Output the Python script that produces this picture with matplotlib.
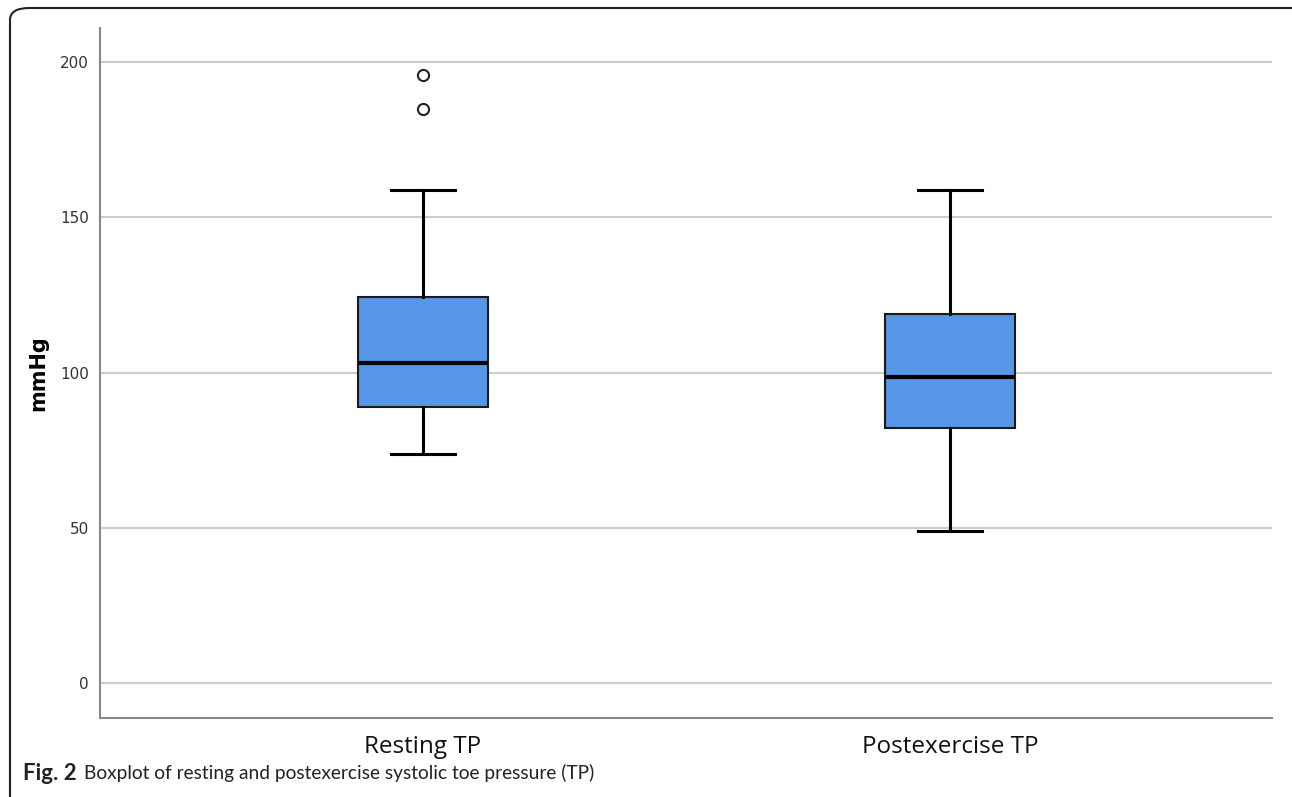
import matplotlib
matplotlib.use("Agg")
import matplotlib.pyplot as plt
from matplotlib.patches import FancyBboxPatch

# values (mmHg)
groups = ["Resting TP", "Postexercise TP"]
whisker_low = [73.8, 49.0]
q1 = [88.8, 82.0]
median = [103.0, 98.5]
q3 = [124.4, 118.8]
whisker_high = [158.8, 158.8]
outliers = [[195.8, 184.8], []]
yticks = [0, 50, 100, 150, 200]

plt.rcParams["font.family"] = ["DejaVu Sans"]

stats = []
for i in range(len(groups)):
    stats.append({"label": groups[i], "whislo": whisker_low[i], "q1": q1[i],
                  "med": median[i], "q3": q3[i], "whishi": whisker_high[i],
                  "fliers": outliers[i]})

fig = plt.figure(figsize=(12.92, 7.97), dpi=100)
ax = fig.add_axes([100 / 1292, 1 - 718 / 797, 1172 / 1292, 690 / 797])

ax.bxp(stats, positions=[1, 2], widths=0.245, patch_artist=True,
       boxprops=dict(facecolor="#5596e6", edgecolor="#1a1a1a", linewidth=1.5),
       medianprops=dict(color="black", linewidth=3),
       whiskerprops=dict(color="black", linewidth=2.2),
       capprops=dict(color="black", linewidth=2.2),
       capwidths=0.123,
       flierprops=dict(marker="o", markerfacecolor="white", markeredgecolor="#222222",
                       markersize=8, markeredgewidth=1.5),
       zorder=3)

ax.set_xlim(0.387, 2.611)
ax.set_ylim(-11.3, 211)
ax.set_yticks(yticks)
ax.yaxis.grid(True, color="#cccccc", linewidth=1.5, zorder=0)
ax.set_axisbelow(True)
ax.tick_params(axis="both", length=0)
ax.tick_params(axis="y", pad=8, labelsize=11, labelcolor="#333333")
ax.tick_params(axis="x", pad=12, labelsize=17.5, labelcolor="#111111")
for lab in ax.get_xticklabels():
    lab.set_fontfamily("Open Sans")
for lab in ax.get_yticklabels():
    lab.set_fontfamily("DejaVu Sans")
for side in ["top", "right"]:
    ax.spines[side].set_visible(False)
for side in ["left", "bottom"]:
    ax.spines[side].set_color("#888888")
    ax.spines[side].set_linewidth(1.5)

ax.set_ylabel("mmHg", fontsize=15, fontweight="bold", family="DejaVu Sans")
ax.yaxis.set_label_coords(-52 / 1172, 0.5)

# rounded frame of the figure panel
frame = FancyBboxPatch((10 / 1292, -0.2), 1.2, 1 - 8 / 797 + 0.2,
                       boxstyle="round,pad=0,rounding_size=0.015",
                       transform=fig.transFigure, fill=False,
                       edgecolor="#222222", linewidth=1.5, clip_on=False)
fig.patches.append(frame)

fig.text(23 / 1292, 1 - 773 / 797, "Fig. 2", fontsize=16, fontweight="bold",
         family="Lato", va="center", color="#222222")
fig.text(84 / 1292, 1 - 773 / 797,
         "Boxplot of resting and postexercise systolic toe pressure (TP)",
         fontsize=13.8, family="Lato", va="center", color="#222222")

fig.savefig("out.png", dpi=100)
